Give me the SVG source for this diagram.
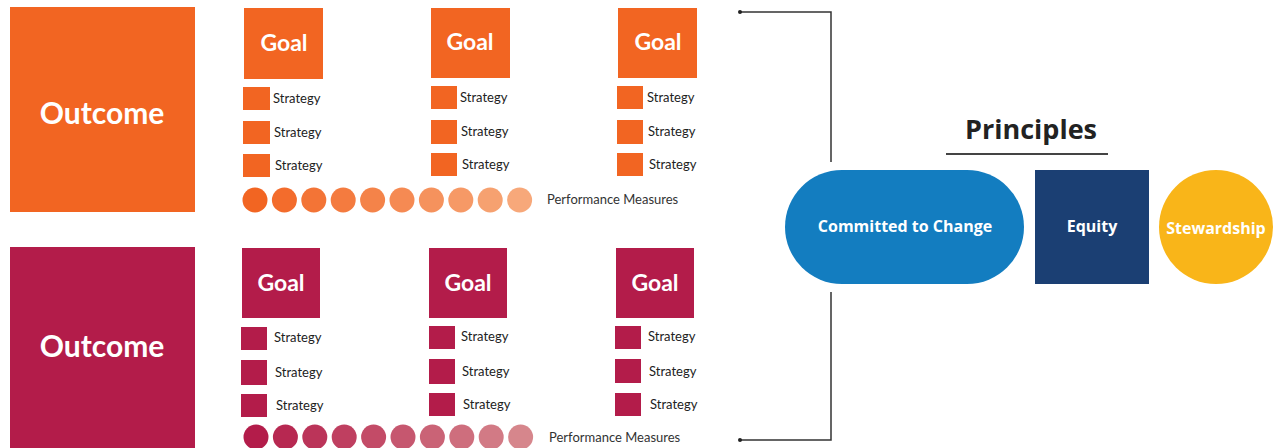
<svg xmlns="http://www.w3.org/2000/svg" width="1278" height="448" viewBox="0 0 1278 448">
<style>
.bg{fill:#ffffff}
.or{fill:#F26522}
.mg{fill:#B31C4A}
.big{font-family:Lato,"Open Sans",sans-serif;font-weight:bold;font-size:30px;fill:#fff;text-anchor:middle}
.goal{font-family:Lato,"Open Sans",sans-serif;font-weight:bold;font-size:23px;fill:#fff;text-anchor:middle}
.st{font-family:Lato,"Open Sans",sans-serif;font-size:13px;fill:#222}
.pm{font-family:Lato,"Open Sans",sans-serif;font-size:13px;fill:#333}
.pr{font-family:"Open Sans",Lato,sans-serif;font-weight:bold;font-size:27px;fill:#222;text-anchor:middle}
.pl{font-family:"Open Sans",Lato,sans-serif;font-weight:bold;font-size:16px;fill:#fff;text-anchor:middle}
.conn{fill:none;stroke:#333;stroke-width:1.5}
</style>
<rect class="bg" x="0" y="0" width="1278" height="448"/>

<g id="outcome-top"><rect class="or" x="10" y="7" width="185" height="205"/><text class="big" x="102" y="124">Outcome</text></g>
<g id="goal-t1"><rect class="or" x="244" y="8" width="79" height="71"/><text class="goal" x="284" y="51">Goal</text></g>
<g id="goal-t2"><rect class="or" x="431" y="8" width="79" height="70"/><text class="goal" x="470" y="50">Goal</text></g>
<g id="goal-t3"><rect class="or" x="618" y="8" width="79" height="70"/><text class="goal" x="658" y="50">Goal</text></g>

<g id="strat-t1">
<rect class="or" x="243" y="87" width="27" height="23"/><text class="st" x="273" y="103">Strategy</text>
<rect class="or" x="243" y="121" width="27" height="23"/><text class="st" x="274" y="137">Strategy</text>
<rect class="or" x="243" y="154" width="27" height="23"/><text class="st" x="275" y="170">Strategy</text>
</g>
<g id="strat-t2">
<rect class="or" x="431" y="86" width="26" height="23"/><text class="st" x="460" y="102">Strategy</text>
<rect class="or" x="431" y="120" width="26" height="24"/><text class="st" x="461" y="136">Strategy</text>
<rect class="or" x="431" y="153" width="26" height="23"/><text class="st" x="462" y="169">Strategy</text>
</g>
<g id="strat-t3">
<rect class="or" x="617" y="86" width="26" height="23"/><text class="st" x="647" y="102">Strategy</text>
<rect class="or" x="617" y="120" width="26" height="24"/><text class="st" x="648" y="136">Strategy</text>
<rect class="or" x="617" y="153" width="26" height="23"/><text class="st" x="649" y="169">Strategy</text>
</g>
<g id="pm-top">
<circle cx="255" cy="200" r="12.5" fill="#F26522"/>
<circle cx="284.4" cy="200" r="12.5" fill="#F36C2C"/>
<circle cx="313.8" cy="200" r="12.5" fill="#F37436"/>
<circle cx="343.2" cy="200" r="12.5" fill="#F47B3F"/>
<circle cx="372.6" cy="200" r="12.5" fill="#F48349"/>
<circle cx="402" cy="200" r="12.5" fill="#F58A53"/>
<circle cx="431.4" cy="200" r="12.5" fill="#F5925D"/>
<circle cx="460.8" cy="200" r="12.5" fill="#F69966"/>
<circle cx="490.2" cy="200" r="12.5" fill="#F6A170"/>
<circle cx="519.6" cy="200" r="12.5" fill="#F7A87A"/>
<text class="pm" x="547" y="204">Performance Measures</text>
</g>

<g id="outcome-bottom"><rect class="mg" x="10" y="247" width="185" height="201"/><text class="big" x="102" y="357">Outcome</text></g>
<g id="goal-b1"><rect class="mg" x="242" y="248" width="78" height="70"/><text class="goal" x="281" y="291">Goal</text></g>
<g id="goal-b2"><rect class="mg" x="429" y="248" width="78" height="70"/><text class="goal" x="468" y="291">Goal</text></g>
<g id="goal-b3"><rect class="mg" x="616" y="248" width="78" height="70"/><text class="goal" x="655" y="291">Goal</text></g>

<g id="strat-b1">
<rect class="mg" x="241" y="327" width="26" height="23"/><text class="st" x="274" y="342">Strategy</text>
<rect class="mg" x="241" y="360" width="26" height="25"/><text class="st" x="275" y="377">Strategy</text>
<rect class="mg" x="241" y="394" width="26" height="23"/><text class="st" x="276" y="410">Strategy</text>
</g>
<g id="strat-b2">
<rect class="mg" x="429" y="326" width="26" height="23"/><text class="st" x="461" y="341">Strategy</text>
<rect class="mg" x="429" y="359" width="26" height="25"/><text class="st" x="462" y="376">Strategy</text>
<rect class="mg" x="429" y="393" width="26" height="23"/><text class="st" x="463" y="409">Strategy</text>
</g>
<g id="strat-b3">
<rect class="mg" x="615" y="326" width="26" height="23"/><text class="st" x="648" y="341">Strategy</text>
<rect class="mg" x="615" y="359" width="26" height="24"/><text class="st" x="649" y="376">Strategy</text>
<rect class="mg" x="615" y="393" width="26" height="23"/><text class="st" x="650" y="409">Strategy</text>
</g>
<g id="pm-bottom">
<circle cx="256" cy="437" r="12.5" fill="#B31C4A"/>
<circle cx="285.4" cy="437" r="12.5" fill="#B72851"/>
<circle cx="314.8" cy="437" r="12.5" fill="#BB3459"/>
<circle cx="344.2" cy="437" r="12.5" fill="#BF3F60"/>
<circle cx="373.6" cy="437" r="12.5" fill="#C34B67"/>
<circle cx="403" cy="437" r="12.5" fill="#C6576F"/>
<circle cx="432.4" cy="437" r="12.5" fill="#CA6376"/>
<circle cx="461.8" cy="437" r="12.5" fill="#CE6E7D"/>
<circle cx="491.2" cy="437" r="12.5" fill="#D27A85"/>
<circle cx="520.6" cy="437" r="12.5" fill="#D6868C"/>
<text class="pm" x="549" y="442">Performance Measures</text>
</g>

<g id="connectors">
<path class="conn" d="M740 12 H831 V162"/>
<path class="conn" d="M831 292 V440 H740"/>
<circle cx="740" cy="12" r="2" fill="#222"/>
<circle cx="740" cy="440" r="2" fill="#222"/>
</g>

<g id="principles-title"><text class="pr" x="1031" y="139">Principles</text><line x1="946" y1="154" x2="1108" y2="154" stroke="#444" stroke-width="2"/></g>
<g id="committed"><rect x="785" y="170" width="239" height="114" rx="57" ry="57" fill="#137DC0"/><text class="pl" x="905" y="232">Committed to Change</text></g>
<g id="equity"><rect x="1035" y="170" width="114" height="114" fill="#1B3F73"/><text class="pl" x="1092" y="232">Equity</text></g>
<g id="stewardship"><circle cx="1216" cy="227" r="57" fill="#F9B519"/><text class="pl" x="1216" y="234">Stewardship</text></g>
</svg>
